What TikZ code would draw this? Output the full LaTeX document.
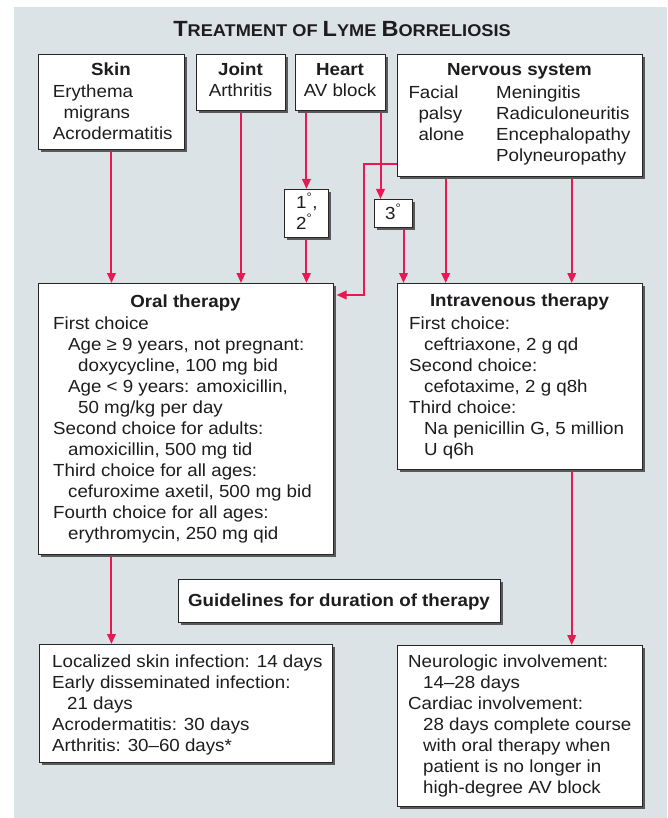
\documentclass[tikz,border=0pt]{standalone}
\usepackage{fontspec}
\setmainfont{Liberation Sans}[FakeStretch=1.07]
\usetikzlibrary{arrows.meta,shadows}
\definecolor{panelc}{RGB}{220,227,231}
\definecolor{arrc}{RGB}{232,24,82}
\definecolor{textc}{RGB}{30,28,30}
\newcommand\TBig[1]{{\fontsize{22}{24}\selectfont #1}}
\newcommand\TSmall[1]{{\fontsize{17}{24}\selectfont #1}}
\newcommand\degsup{\textsuperscript{°}}
\pgfdeclarelayer{panel}
\pgfdeclarelayer{edges}
\pgfsetlayers{panel,edges,main}
\tikzset{
  every node/.style={font=\fontsize{17.5}{21}\selectfont, text=textc},
  box/.style={draw=black!85, line width=0.9pt, fill=white, inner sep=0pt, anchor=north west,
    drop shadow={shadow xshift=2.2pt, shadow yshift=-2.2pt, fill=black!65, opacity=1}},
  head/.style={anchor=base, inner sep=0pt, font=\fontsize{17.5}{21}\selectfont\bfseries},
  body/.style={anchor=base west, inner sep=0pt},
  arr/.style={draw=arrc, line width=2pt, -{Triangle[length=10pt,width=8.5pt]}}
}
\begin{document}
\begin{tikzpicture}[x=1pt,y=-1pt]
\useasboundingbox (0,0) rectangle (667,818);
\begin{pgfonlayer}{panel}
\fill[panelc] (14,7) rectangle (667,818);
\end{pgfonlayer}

\node[anchor=base, inner sep=0pt] (title) at (342,37)
  {\bfseries\TBig{T}\TSmall{REATMENT OF }\TBig{L}\TSmall{YME }\TBig{B}\TSmall{ORRELIOSIS}};

% boxes
\node[box, minimum width=146pt, minimum height=95pt] (skin) at (38,54) {};
\node[box, minimum width=89pt, minimum height=56pt] (joint) at (196,54) {};
\node[box, minimum width=90pt, minimum height=56pt] (heart) at (295,54) {};
\node[box, minimum width=245pt, minimum height=122pt] (nerv) at (397,54) {};
\node[box, minimum width=44pt, minimum height=48pt] (d12) at (284,189) {};
\node[box, minimum width=38pt, minimum height=28pt] (d3) at (374,199) {};
\node[box, minimum width=295pt, minimum height=271pt] (oral) at (38,283) {};
\node[box, minimum width=245pt, minimum height=186pt] (iv) at (397,283) {};
\node[box, minimum width=322pt, minimum height=43pt] (guide) at (178,579) {};
\node[box, minimum width=293pt, minimum height=118pt] (durL) at (39,644) {};
\node[box, minimum width=245pt, minimum height=161pt] (durR) at (397,645) {};

% headings
\node[head] (skinH) at (111,75.7) {Skin};
\node[head] (jointH) at (240.5,75.7) {Joint};
\node[head] (heartH) at (340,75.7) {Heart};
\node[head] (nervH) at (519.5,76) {Nervous system};
\node[head] (oralH) at (185.5,307) {Oral therapy};
\node[head] (ivH) at (519.5,306) {Intravenous therapy};
\node[head] (guideH) at (339,606) {Guidelines for duration of therapy};

% bodies
\node[body] (skinB) at (52.7,97.3) {\parbox[t]{128pt}{\raggedright
  Erythema\\ \hspace*{10.6pt}migrans\\ Acrodermatitis}};
\node[anchor=base, inner sep=0pt] (jointB) at (240.5,97) {Arthritis};
\node[anchor=base, inner sep=0pt] (heartB) at (340,97) {AV block};
\node[body] (nervB) at (408.3,98.3) {\begin{tabular}[t]{@{}p{87.7pt}@{}l@{}}
  Facial & Meningitis\\
  \hspace*{10pt}palsy & Radiculoneuritis\\
  \hspace*{10pt}alone & Encephalopathy\\
  & Polyneuropathy
\end{tabular}};
\node[body] (d12T) at (296,208) {\begin{tabular}[t]{@{}l@{}}1\degsup,\\ 2\degsup\end{tabular}};
\node[body] (d3T) at (385,219) {3\degsup};
\node[body] (oralB) at (53,329) {\parbox[t]{276pt}{\raggedright
  First choice\\
  \hspace*{15pt}Age ≥ 9 years, not pregnant:\\
  \hspace*{25pt}doxycycline, 100 mg bid\\
  \hspace*{15pt}Age < 9 years: amoxicillin,\\
  \hspace*{25pt}50 mg/kg per day\\
  Second choice for adults:\\
  \hspace*{15pt}amoxicillin, 500 mg tid\\
  Third choice for all ages:\\
  \hspace*{15pt}cefuroxime axetil, 500 mg bid\\
  Fourth choice for all ages:\\
  \hspace*{15pt}erythromycin, 250 mg qid}};
\node[body] (ivB) at (409,329) {\parbox[t]{228pt}{\raggedright
  First choice:\\
  \hspace*{15pt}ceftriaxone, 2 g qd\\
  Second choice:\\
  \hspace*{15pt}cefotaxime, 2 g q8h\\
  Third choice:\\
  \hspace*{15pt}Na penicillin G, 5 million\\
  \hspace*{15pt}U q6h}};
\node[body] (durLB) at (52,667) {\parbox[t]{276pt}{\raggedright
  Localized skin infection: 14 days\\
  Early disseminated infection:\\
  \hspace*{15pt}21 days\\
  Acrodermatitis: 30 days\\
  Arthritis: 30–60 days*}};
\node[body] (durRB) at (408,667) {\parbox[t]{230pt}{\raggedright
  Neurologic involvement:\\
  \hspace*{15pt}14–28 days\\
  Cardiac involvement:\\
  \hspace*{15pt}28 days complete course\\
  \hspace*{15pt}with oral therapy when\\
  \hspace*{15pt}patient is no longer in\\
  \hspace*{15pt}high-degree AV block}};

% connectors
\coordinate (xb) at (380.5,0);
\coordinate (xc) at (403.5,0);
\coordinate (xd) at (445.7,0);
\coordinate (xe) at (571.7,0);
\coordinate (xn) at (364.3,0);
\coordinate (yn) at (0,164);
\coordinate (yo) at (0,295);
\begin{pgfonlayer}{edges}
\draw[arr] (skin.south) -- (skin.south |- oral.north);
\draw[arr] (joint.south) -- (joint.south |- oral.north);
\draw[arr] (heart.south -| d12.north) -- (d12.north);
\draw[arr] (d12.south) -- (d12.south |- oral.north);
\draw[arr] (heart.south -| xb) -- (d3.north -| xb);
\draw[arr] (d3.south -| xc) -- (iv.north -| xc);
\draw[arr] (nerv.west |- yn) -| (xn |- yo) -- ([xshift=2.6pt]oral.east |- yo);
\draw[arr] (nerv.south -| xd) -- (iv.north -| xd);
\draw[arr] (nerv.south -| xe) -- (iv.north -| xe);
\draw[arr] (oral.south -| skin.south) -- (durL.north -| skin.south);
\draw[arr] (iv.south -| xe) -- (durR.north -| xe);
\end{pgfonlayer}
\end{tikzpicture}
\end{document}
